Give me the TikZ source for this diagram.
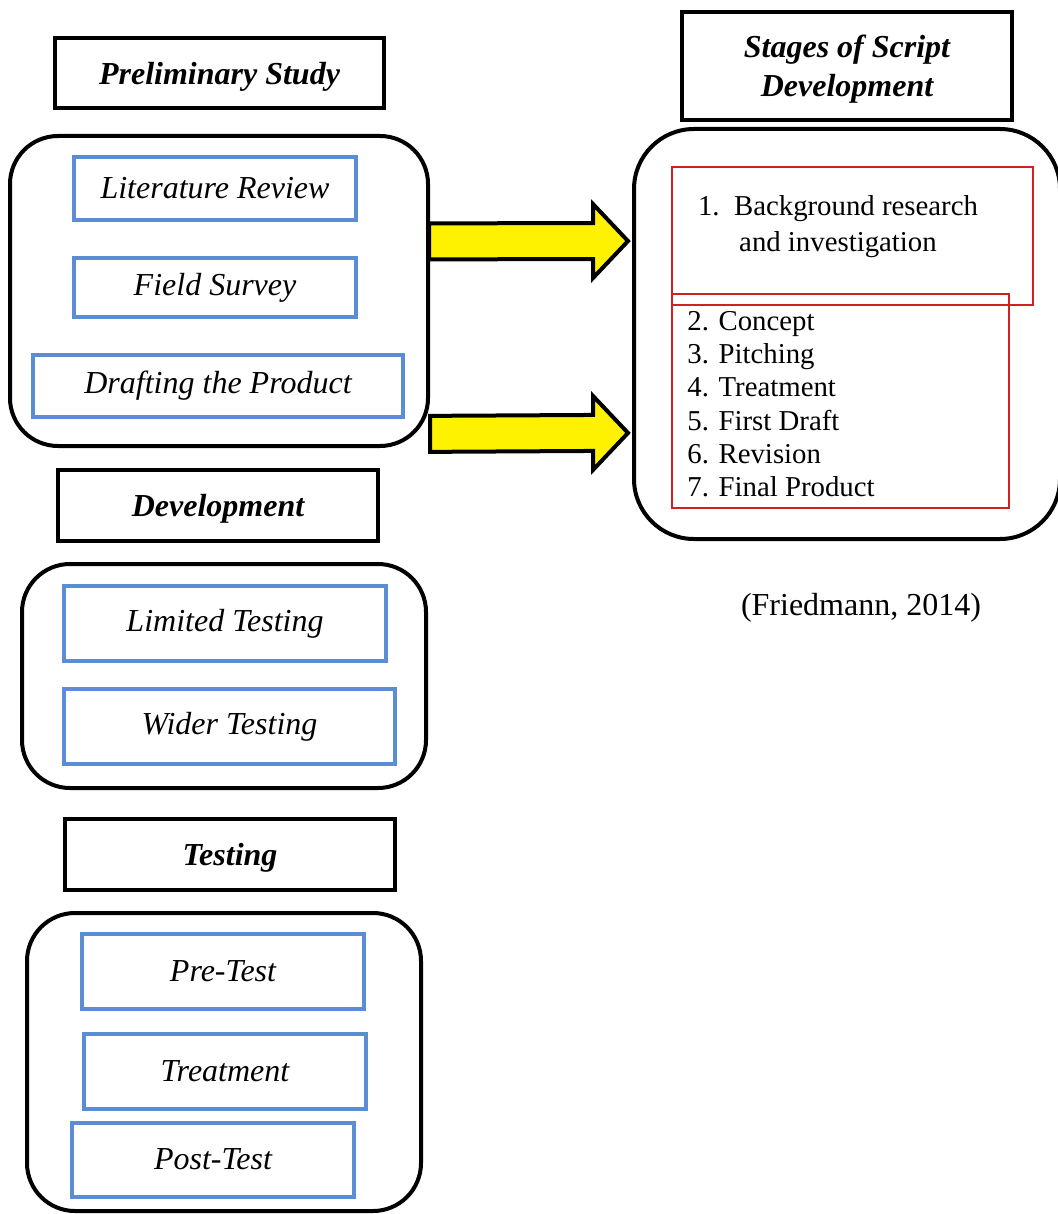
\documentclass[tikz,border=0pt]{standalone}
\usepackage{fontspec}
\setmainfont{Liberation Serif}
\usepackage{tikz}
\usetikzlibrary{calc, positioning}
\definecolor{itemblue}{HTML}{5B8DD5}
\definecolor{stagered}{HTML}{D02020}
\tikzstyle{head} = [rectangle, line width=2pt, draw=black, align=center, text depth=0pt, font=\fontsize{16}{19.5}\selectfont\bfseries\itshape]
\tikzstyle{group} = [rectangle, rounded corners=24pt, line width=2pt, draw=black]
\tikzstyle{item} = [rectangle, line width=2pt, draw=itemblue, font=\fontsize{16}{19}\selectfont\itshape]
\tikzstyle{stage} = [rectangle, line width=1pt, draw=stagered]
\tikzstyle{bigarrow} = [line width=2pt, draw=black, fill=yellow, line join=miter]

\begin{document}
\begin{tikzpicture}[x=0.5pt, y=-0.5pt]
		\useasboundingbox (0,0) rectangle (1058,1214);
		% containers
		\node (PreliminaryGroup) [group, minimum width=209pt, minimum height=155pt] at (219,291) {};
		\node (StagesGroup) [group, rounded corners=30pt, minimum width=213pt, minimum height=205pt] at (847,334) {};
		\node (DevelopmentGroup) [group, minimum width=202pt, minimum height=112pt] at (224,676) {};
		\node (TestingGroup) [group, minimum width=197pt, minimum height=149pt] at (224,1062) {};
		% headers
		\node (Preliminary) [head, minimum width=164.5pt, minimum height=35pt] at (219.5,73) {Preliminary Study};
		\node (Stages) [head, minimum width=165pt, minimum height=54pt] at (847,66) {Stages of Script\\Development};
		\node (Development) [head, minimum width=160pt, minimum height=35.5pt] at (218,505.5) {Development};
		\node (Testing) [head, minimum width=165pt, minimum height=35.5pt] at (230,854.5) {Testing};
		% steps
		\node (LiteratureReview) [item, minimum width=141pt, minimum height=31.5pt] at (215,188.5) {Literature Review};
		\node (FieldSurvey) [item, minimum width=141pt, minimum height=29.5pt] at (215,287.5) {Field Survey};
		\node (Drafting) [item, minimum width=185pt, minimum height=31pt] at (218,386) {Drafting the Product};
		\node (LimitedTesting) [item, minimum width=161pt, minimum height=37.5pt] at (225,623.5) {Limited Testing};
		\node (WiderTesting) [item, minimum width=165.5pt, minimum height=37.5pt] at (229.5,726.5) {Wider Testing};
		\node (PreTest) [item, minimum width=141pt, minimum height=37.5pt] at (223,971) {Pre-Test};
		\node (Treatment) [item, minimum width=141pt, minimum height=37.5pt] at (225,1071) {Treatment};
		\node (PostTest) [item, minimum width=141pt, minimum height=37pt] at (213,1159.5) {Post-Test};
		% script stages
		\node (StageOne) [stage, minimum width=180.5pt, minimum height=69pt] at (852.5,236) {};
		\node (StageRest) [stage, minimum width=168.5pt, minimum height=107pt] at (840.5,401) {};
		\node (StageOneText) [align=center, font=\fontsize{14.4}{18}\selectfont] at (838,226.5) {1.\ \ Background research\\and investigation};
		\node (StageList) [anchor=north west, inner sep=0pt, align=left, font=\fontsize{14.4}{16.6}\selectfont] at (687,311) {2. Concept\\3. Pitching\\4. Treatment\\5. First Draft\\6. Revision\\7. Final Product};
		\node (Source) [font=\fontsize{16}{19}\selectfont] at (861,608) {(Friedmann, 2014)};
		\path (PreliminaryGroup.east) -- (PreliminaryGroup.north east) coordinate[pos=0.316] (ArrowOneStart);
		\path (PreliminaryGroup.east) -- (PreliminaryGroup.north east) coordinate[pos=-0.91] (ArrowTwoStart);
		\path (StagesGroup.west) -- (StagesGroup.north west) coordinate[pos=0.449] (ArrowOneTip);
		\path (StagesGroup.west) -- (StagesGroup.north west) coordinate[pos=-0.478] (ArrowTwoTip);
		\draw [bigarrow] ($(ArrowOneStart)+(-1,-18)$) -- ($(ArrowOneTip)+(-39,-18)$) -- ($(ArrowOneTip)+(-39,-37)$) -- ($(ArrowOneTip)+(-4,0)$) -- ($(ArrowOneTip)+(-39,37)$) -- ($(ArrowOneTip)+(-39,18)$) -- ($(ArrowOneStart)+(-1,18)$) -- cycle;
		\draw [bigarrow] ($(ArrowTwoStart)+(0,-18)$) -- ($(ArrowTwoTip)+(-39,-18)$) -- ($(ArrowTwoTip)+(-39,-37)$) -- ($(ArrowTwoTip)+(-4,0)$) -- ($(ArrowTwoTip)+(-39,37)$) -- ($(ArrowTwoTip)+(-39,18)$) -- ($(ArrowTwoStart)+(0,18)$) -- cycle;
	\end{tikzpicture}
\end{document}
